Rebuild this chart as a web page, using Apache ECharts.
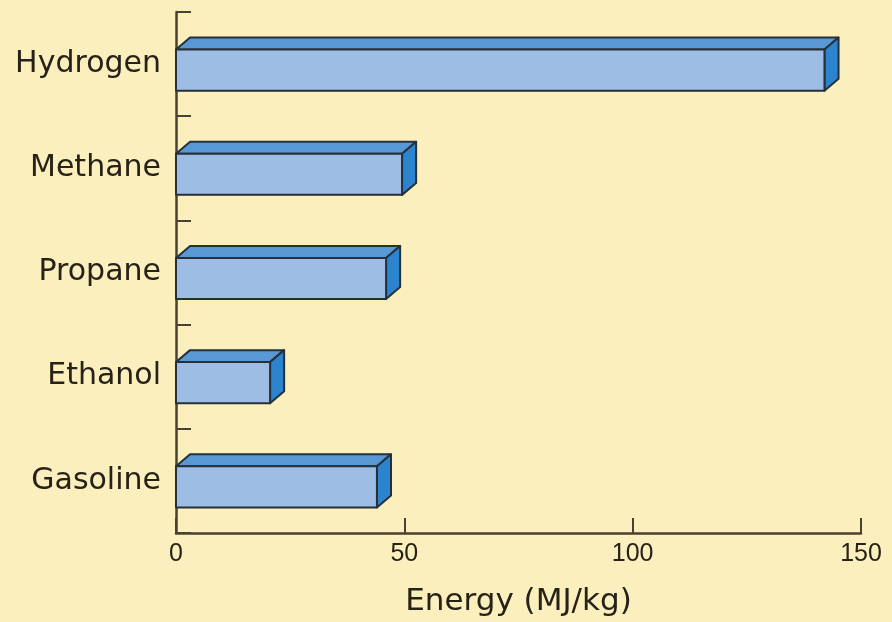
<!DOCTYPE html>
<html>
<head>
<meta charset="utf-8">
<script src="https://cdn.jsdelivr.net/npm/echarts@6/dist/echarts.min.js"></script>
<style>
  html, body { margin: 0; padding: 0; background: #fcefbe; }
  #chart { width: 892px; height: 622px; }
</style>
</head>
<body>
<div id="chart"></div>
<script>
// Energy density of common fuels
const fuels = ['Hydrogen', 'Methane', 'Propane', 'Ethanol', 'Gasoline'];
const energyMJperKg = [142, 49.5, 46, 20.6, 44];
const xTicks = [0, 50, 100, 150];

const INK = '#262217';
const AXIS = '#4a4230';
const EDGE = '#26303b';

// Draws each bar as a box: front face, top face and right side face
function renderBox(params, api) {
  const cat = api.value(0);
  const val = api.value(1);
  const band = api.size([0, 1])[1];
  const left = api.coord([0, cat]);
  const right = api.coord([val, cat]);
  const cy = left[1];
  const dx = band * 0.135;
  const dy = band * 0.115;
  const h = band * 0.395;
  const total = h + dy;
  const top = cy - total / 2 + dy;
  const bottom = top + h;
  const x0 = left[0];
  const x1 = right[0];
  const lineStyle = { stroke: EDGE, lineWidth: 2, lineJoin: 'round' };
  return {
    type: 'group',
    children: [
      {
        type: 'polygon',
        shape: { points: [[x0, top], [x0 + dx, top - dy], [x1 + dx, top - dy], [x1, top]] },
        style: Object.assign({ fill: '#5898d5' }, lineStyle)
      },
      {
        type: 'polygon',
        shape: { points: [[x1, top], [x1 + dx, top - dy], [x1 + dx, bottom - dy], [x1, bottom]] },
        style: Object.assign({ fill: '#2d84ce' }, lineStyle)
      },
      {
        type: 'rect',
        shape: { x: x0, y: top, width: x1 - x0, height: h },
        style: Object.assign({ fill: '#9ebde5' }, lineStyle)
      }
    ]
  };
}

const chart = echarts.init(document.getElementById('chart'), null, { renderer: 'canvas' });
chart.setOption({
  backgroundColor: '#fcefbe',
  animation: false,
  grid: { left: 176, right: 31, top: 12, bottom: 89, containLabel: false, outerBoundsMode: 'none' },
  xAxis: {
    type: 'value',
    min: xTicks[0],
    max: xTicks[xTicks.length - 1],
    interval: xTicks[1] - xTicks[0],
    name: 'Energy (MJ/kg)',
    nameLocation: 'middle',
    nameGap: 53,
    nameTextStyle: { fontFamily: 'DejaVu Sans', fontSize: 31, color: INK },
    axisLine: { show: true, lineStyle: { color: AXIS, width: 2.5 } },
    axisTick: { show: true, inside: true, length: 15, lineStyle: { color: AXIS, width: 2 } },
    axisLabel: { fontFamily: 'Liberation Sans', fontSize: 25, color: INK, margin: 9 },
    splitLine: { show: false }
  },
  yAxis: {
    type: 'category',
    data: fuels,
    inverse: true,
    axisLine: { show: true, lineStyle: { color: AXIS, width: 2.5 } },
    axisTick: { show: true, inside: true, length: 15, lineStyle: { color: AXIS, width: 2 } },
    axisLabel: { fontFamily: 'DejaVu Sans', fontSize: 30, color: INK, margin: 15 },
    splitLine: { show: false }
  },
  series: [{
    type: 'custom',
    renderItem: renderBox,
    encode: { y: 0, x: 1 },
    data: fuels.map((f, i) => [i, energyMJperKg[i]]),
    clip: false,
    z: 1
  }]
});
</script>
</body>
</html>
